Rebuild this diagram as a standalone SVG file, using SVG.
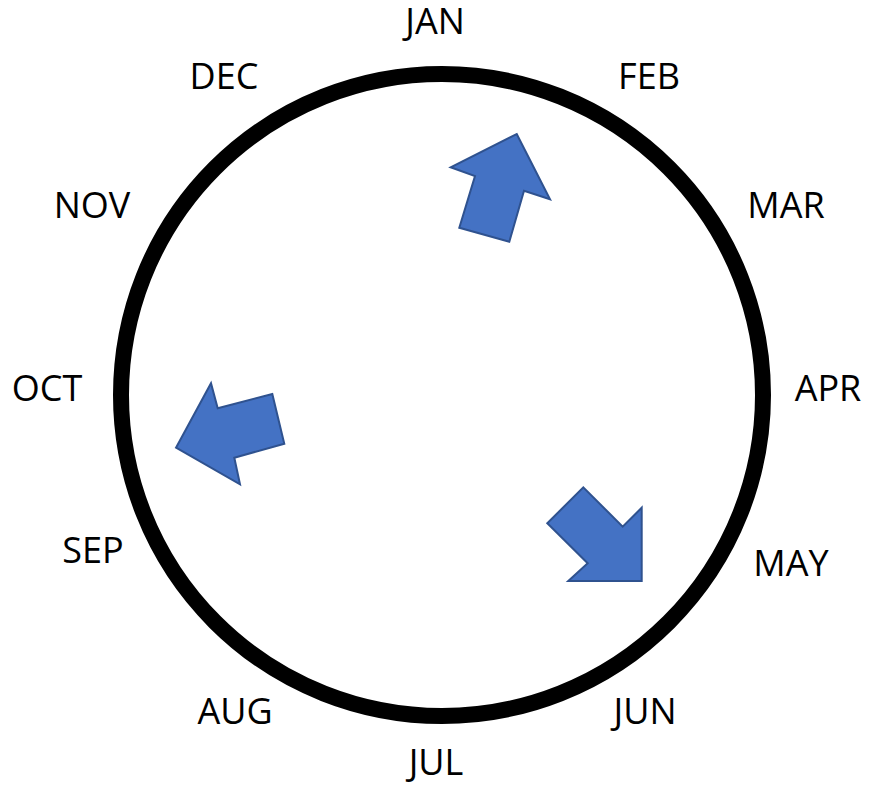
<svg xmlns="http://www.w3.org/2000/svg" width="872" height="792" viewBox="0 0 872 792">
<style>
.lbl{font-family:"Open Sans","Noto Sans","DejaVu Sans",sans-serif;font-size:36px;fill:#000;text-anchor:middle}
.arr{fill:#4472C4;stroke:#2F528F;stroke-width:2;stroke-linejoin:miter}
</style>
<rect width="872" height="792" fill="#fff"/>
<g id="ring"><circle cx="442" cy="395" r="321" fill="none" stroke="#000" stroke-width="16"/></g>
<g id="labels">
<text class="lbl" x="435" y="34">JAN</text>
<text class="lbl" x="649" y="89">FEB</text>
<text class="lbl" x="786" y="218">MAR</text>
<text class="lbl" x="828" y="401">APR</text>
<text class="lbl" x="791" y="576">MAY</text>
<text class="lbl" x="645" y="724">JUN</text>
<text class="lbl" x="436" y="775">JUL</text>
<text class="lbl" x="235" y="724">AUG</text>
<text class="lbl" x="93" y="563">SEP</text>
<text class="lbl" x="47" y="401">OCT</text>
<text class="lbl" x="92" y="218">NOV</text>
<text class="lbl" x="224" y="89">DEC</text>
</g>
<g id="arrows">
<polygon id="arrow-up" class="arr" points="516.7,134 550,199.3 524,190.7 509.3,241.7 459.3,227.7 475,176 450.7,167.3"/>
<polygon id="arrow-left" class="arr" points="176,447.7 211,383.3 217.7,408.3 272.3,394 284.3,443.7 234.3,457.7 240,484.3"/>
<polygon id="arrow-down" class="arr" points="547.3,523.3 583.3,487.3 622.7,526.7 641.7,507.7 641.7,581 568.3,581 587.7,563.3"/>
</g>
</svg>
